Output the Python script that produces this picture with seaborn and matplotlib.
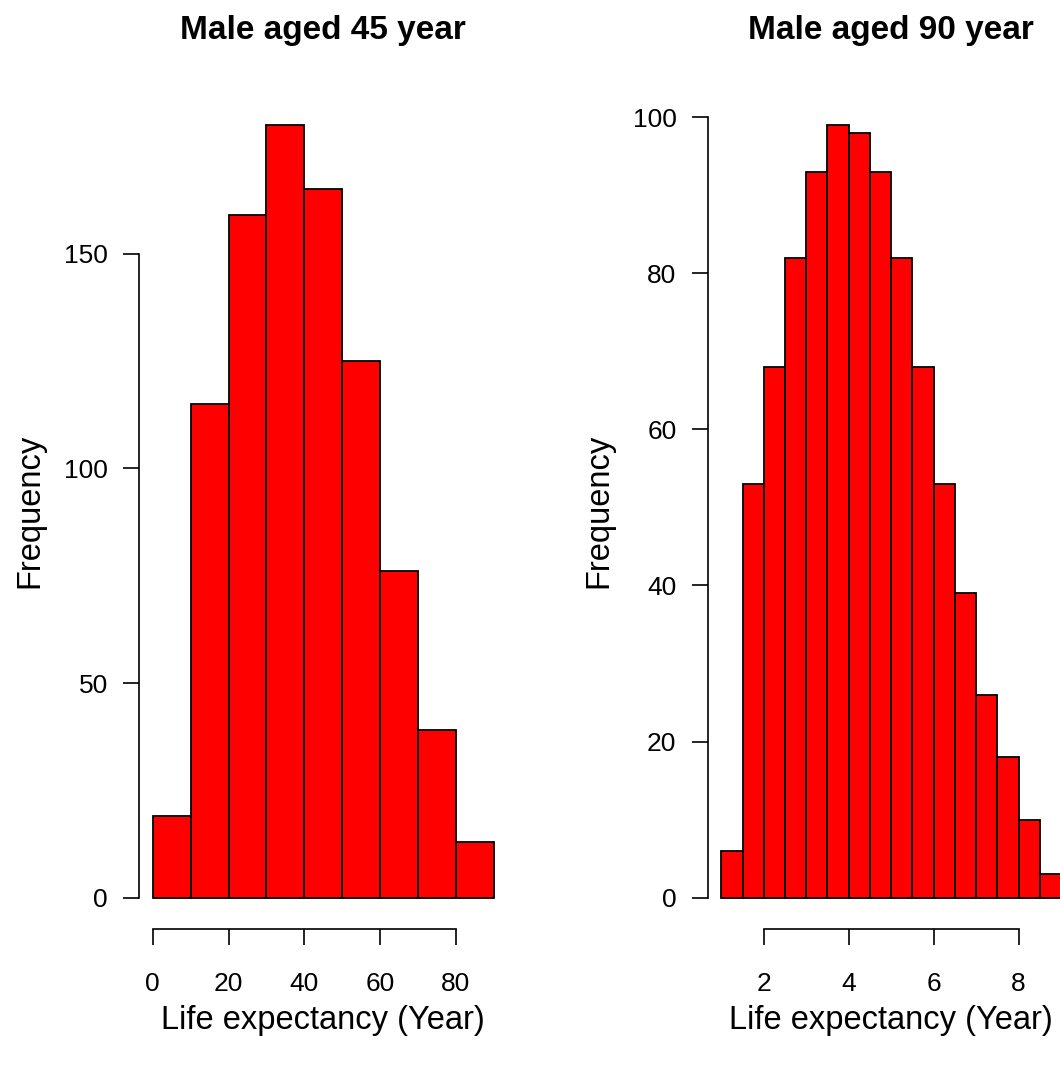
import numpy as np
import pandas as pd
import matplotlib
matplotlib.use("Agg")
import matplotlib.pyplot as plt
import seaborn as sns

# Histogram counts of simulated remaining life expectancy
age45_edges = [0, 10, 20, 30, 40, 50, 60, 70, 80, 90]
age45_counts = [19, 115, 159, 180, 165, 125, 76, 39, 13]
age45_xticks = [0, 20, 40, 60, 80]
age45_yticks = [0, 50, 100, 150]

age90_edges = [1.0, 1.5, 2.0, 2.5, 3.0, 3.5, 4.0, 4.5, 5.0,
               5.5, 6.0, 6.5, 7.0, 7.5, 8.0, 8.5, 9.0]
age90_counts = [6, 53, 68, 82, 93, 99, 98, 93, 82, 68, 53, 39, 26, 18, 10, 3]
age90_xticks = [2, 4, 6, 8]
age90_yticks = [0, 20, 40, 60, 80, 100]

titles = ["Male aged 45 year", "Male aged 90 year"]
xlabel = "Life expectancy (Year)"
ylabel = "Frequency"

sns.set_style("white")
plt.rcParams["font.family"] = ["Liberation Sans", "DejaVu Sans"]
plt.rcParams["text.color"] = "black"
plt.rcParams["axes.labelcolor"] = "black"

W, H = 1060, 1066
fig = plt.figure(figsize=(W / 100, H / 100), dpi=100)

def px_axes(left, top, width, height):
    return fig.add_axes([left / W, (H - top - height) / H, width / W, height / H])

panels = [
    (px_axes(139.1, 94.0, 368.3, 834.6), age45_edges, age45_counts, age45_xticks, age45_yticks, titles[0]),
    (px_axes(707.7, 94.0, 367.0, 834.6), age90_edges, age90_counts, age90_xticks, age90_yticks, titles[1]),
]

for ax, edges, counts, xt, yt, title in panels:
    e = np.asarray(edges, dtype=float)
    df = pd.DataFrame({"mid": (e[:-1] + e[1:]) / 2, "n": counts})
    sns.histplot(data=df, x="mid", weights="n", bins=list(edges), ax=ax,
                 color="#ff0000", alpha=1.0, edgecolor="black", linewidth=1.3)

    # R-style axis extents: 4% padding around data range
    xr = e[-1] - e[0]
    ax.set_xlim(e[0] - 0.04 * xr, e[-1] + 0.04 * xr)
    ymax = max(counts)
    ax.set_ylim(-0.04 * ymax, ymax * 1.04)

    ax.set_xticks(xt)
    ax.set_yticks(yt)
    ax.set_xticklabels([str(v) for v in xt])
    ax.set_yticklabels([str(v) for v in yt])

    for s in ("top", "right"):
        ax.spines[s].set_visible(False)
    ax.spines["left"].set_bounds(yt[0], yt[-1])
    ax.spines["bottom"].set_bounds(xt[0], xt[-1])
    for s in ("left", "bottom"):
        ax.spines[s].set_linewidth(1.2)
        ax.spines[s].set_color("black")

    ax.tick_params(axis="both", direction="out", length=11.5, width=1.2,
                   colors="black", labelcolor="black", labelsize=19,
                   bottom=True, left=True)
    ax.tick_params(axis="y", pad=11)
    ax.tick_params(axis="x", pad=20)

    ax.set_title(title, fontsize=24, fontweight="bold", pad=39.5, color="black")
    ax.set_xlabel(xlabel, fontsize=23.5, va="baseline", color="black")
    ax.xaxis.set_label_coords(0.5, -0.1203)
    ax.set_ylabel(ylabel, fontsize=23.5, color="black")
    ax.yaxis.set_label_coords(-0.255, 0.5)
    ax.grid(False)

fig.savefig("out.png", dpi=100, facecolor="white")
